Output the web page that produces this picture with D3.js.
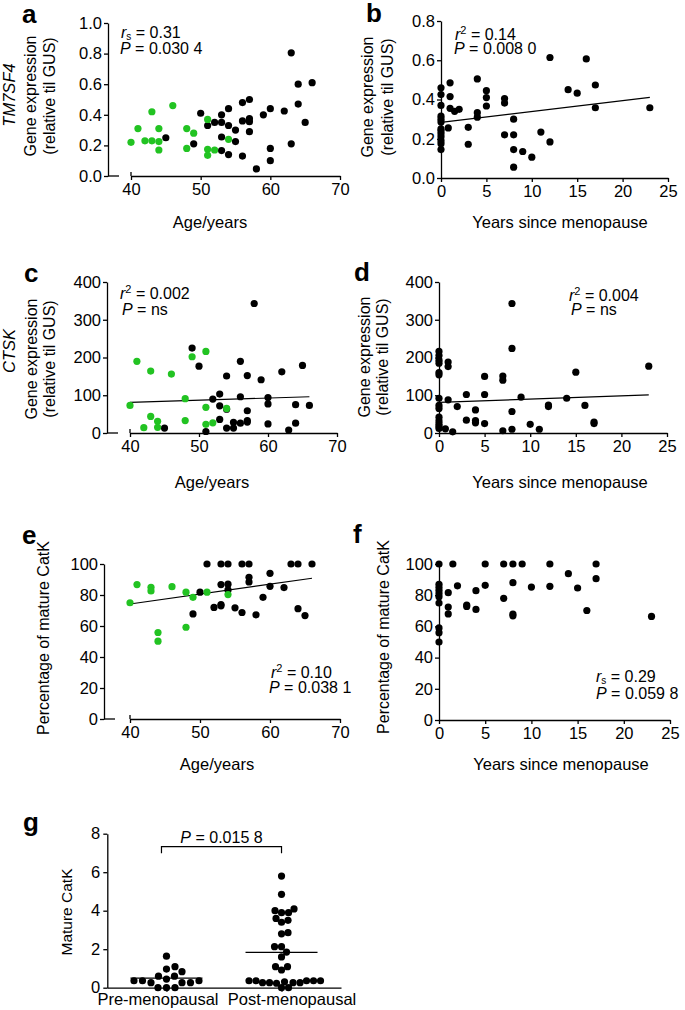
<!DOCTYPE html>
<html>
<head>
<meta charset="utf-8">
<script src="https://cdnjs.cloudflare.com/ajax/libs/d3/7.8.5/d3.min.js"></script>
<style>
  body { margin: 0; background: #fff; }
  svg text { font-family: "Liberation Sans", Arial, Helvetica, sans-serif; fill: #000; }
  .axis path, .axis line { stroke: #000; stroke-width: 1.3; }
  .axis text { font-size: 16.5px; }
</style>
</head>
<body>
<script>
const W = 685, H = 1010;
const green = '#22c322';

// a: TM7SF4 vs age  (pre = green, post = black)
const aPre = [[40,0.22],[41,0.31],[42,0.23],[43,0.42],[43,0.23],[44,0.31],[44,0.225],[44,0.17],[46,0.46],
  [48,0.31],[48,0.18],[49,0.28],[51,0.37],[51,0.175],[51,0.135],[52,0.17],[54,0.24]];
const aPost = [[45,0.25],[49,0.21],[50,0.41],[51,0.33],[52,0.35],[53,0.40],[53,0.35],[53,0.255],[53,0.166],
  [54,0.44],[54,0.33],[54,0.14],[55,0.30],[55,0.225],[56,0.48],[56,0.36],[56,0.13],[57,0.50],[57,0.375],
  [57,0.355],[57,0.29],[58,0.046],[59,0.40],[60,0.44],[60,0.18],[60,0.10],[62,0.425],[63,0.805],[63,0.21],
  [64,0.60],[64,0.47],[65,0.35],[66,0.61]];

// b: TM7SF4 vs years since menopause
const bPts = [[0,0.46],[0,0.425],[0,0.37],[0,0.315],[0,0.30],[0,0.285],[0,0.25],[0,0.24],[0,0.225],[0,0.21],
  [0,0.19],[0,0.175],[0,0.145],[0.8,0.255],[1,0.485],[1,0.415],[1,0.355],[1.5,0.34],[2,0.35],[3,0.258],
  [3,0.172],[4,0.505],[4,0.333],[4,0.31],[5,0.445],[5,0.41],[5,0.367],[7,0.405],[7,0.382],[7,0.22],[8,0.30],
  [8,0.22],[8,0.145],[8,0.055],[9,0.135],[10,0.106],[11,0.234],[12,0.614],[12,0.184],[14,0.45],[15,0.432],
  [16,0.607],[17,0.474],[17,0.358],[23,0.358]];
const bFitX = [0, 23], bFitY = [0.283, 0.411];

// c: CTSK vs age
const cPre = [[40,73],[41,190],[42,14],[43,164],[43,44],[44,31],[44,15],[46,156],[48,91],[48,33],[49,202],
  [51,216],[51,68],[51,23],[52,27],[54,65]];
const cPost = [[45,13],[49,225],[50,177],[51,4],[52,90],[53,103],[53,72],[53,36],[54,151],[54,63],[54,13],
  [55,28],[55,13],[56,190],[56,96],[56,26],[57,152],[57,59],[57,33],[57,29],[58,343],[59,141],[60,94],
  [60,77],[60,24],[62,162],[63,8],[64,75],[64,26],[65,179],[66,73]];
const cFitX = [40, 66], cFitY = [81, 96];

// d: CTSK vs years since menopause
const dPts = [[0,216],[0,205],[0,193],[0,185],[0,160],[0,154],[0,92],[0,73],[0,65],[0,42],[0,32],[0,24],
  [0,18],[0,12],[0.7,11],[1,188],[1,176],[1,88],[1.5,3],[2,70],[3,102],[3,34],[4,61],[4,33],[4,27],[5,150],
  [5,102],[5,25],[7,151],[7,140],[7,6],[8,343],[8,224],[8,57],[8,10],[9,95],[10,23],[11,10],[12,74],[12,70],
  [14,92],[15,161],[16,73],[17,29],[17,25],[23,177]];
const dFitX = [0, 23], dFitY = [81, 101];

// e: % mature CatK vs age
const ePre = [[40,75],[41,86.7],[43,85],[43,82.6],[44,55.8],[44,50.2],[46,85.4],[48,81.8],[48,59.2],
  [49,78.5],[51,81.8],[54,80.3]];
const ePost = [[49,67.8],[50,81.8],[51,100],[52,72],[53,100],[53,86.7],[53,73.8],[53,73],[54,100],[54,87],
  [54,83.3],[55,71.7],[56,100],[56,68.7],[57,100],[57,91.4],[57,88.4],[58,67.2],[59,78.5],[60,94],[60,85.6],
  [62,84.8],[63,100],[64,100],[64,71.2],[65,66.7],[66,100]];
const eFitX = [40, 66], eFitY = [74.2, 90.8];

// f: % mature CatK vs years since menopause
const fPts = [[0,100],[0,87],[0,85],[0,83],[0,81],[0,79],[0,75],[0,59],[0,56],[0,50],[1,81.6],[1,72.4],
  [1,68],[1.5,100],[2,86],[3,73.7],[3,72.8],[4,82.9],[4,70.9],[5,100],[5,86.3],[7,100],[7,78],[8,100],[8,88],
  [8,67.9],[8,66.8],[9,100],[10,85.2],[12,100],[12,85.7],[14,93.8],[15,84.6],[16,70.2],[17,100],[17,90.6],
  [23,66.4]];

// g: mature CatK by group
const gGroups = ['Pre-menopausal', 'Post-menopausal'];
const gPre = [1.64,0.97,1.09,0.83,0.6,0.6,0.45,0.36,0.26,0.26,0.26,0.36,0.36,0,0,0];
const gPost = [5.8,4.85,3.9,4.0,4.09,3.9,3.6,3.4,3.5,2.86,2.8,2.13,2.13,1.85,1.6,1.09,1.09,0.92,
  0.36,0.26,0.23,0.36,0.26,0.26,0.36,0.26,0.36,0.31,0.36,0,0];

const ageTicks = [40, 50, 60, 70];
const yearTicks = [0, 5, 10, 15, 20, 25];

const svg = d3.select('body').append('svg').attr('width', W).attr('height', H);

function letter(t, x, y) {
  svg.append('text').attr('x', x).attr('y', y).style('font-size', '26px').style('font-weight', 'bold').text(t);
}

function vlabel(t, x, y, size, italic) {
  svg.append('text').attr('transform', `translate(${x},${y}) rotate(-90)`)
    .attr('text-anchor', 'middle').style('font-size', size + 'px')
    .style('font-style', italic ? 'italic' : 'normal').text(t);
}

// each line: [symbol, modifier ('s' sub / '2' sup / ''), rest]
function stat(x, y, lines) {
  lines.forEach((ln, i) => {
    const t = svg.append('text').attr('x', x[i]).attr('y', y[i]).style('font-size', '16px');
    t.append('tspan').style('font-style', 'italic').text(ln[0]);
    if (ln[1] === 's') t.append('tspan').attr('dy', 2).style('font-size', '10px').text('s');
    if (ln[1] === '2') t.append('tspan').attr('dy', -6).style('font-size', '11px').text('2');
    t.append('tspan').attr('dy', ln[1] === 's' ? -2 : (ln[1] === '2' ? 6 : 0)).text(ln[2]);
  });
}

function scatter(p) {
  const g = svg.append('g');
  const x = d3.scaleLinear().domain(p.xDom).range(p.xRange);
  const y = d3.scaleLinear().domain(p.yDom).range([p.y0, p.y1]);

  g.append('g').attr('class', 'axis').attr('transform', `translate(${p.yx},0)`)
    .call(d3.axisLeft(y).tickValues(p.yTicks).tickFormat(d3.format(p.yFmt))
      .tickSize(4).tickPadding(2).tickSizeOuter(0));
  g.append('g').attr('class', 'axis').attr('transform', `translate(0,${p.y0})`)
    .call(d3.axisBottom(x).tickValues(p.xTicks).tickFormat(d3.format('d'))
      .tickSize(4).tickPadding(3).tickSizeOuter(0));

  if (p.offset) {
    g.append('line').attr('x1', p.yx).attr('x2', p.yx + 11).attr('y1', p.y0).attr('y2', p.y0)
      .attr('stroke', '#000').attr('stroke-width', 1.3);
    g.append('line').attr('x1', x(p.xDom[0])).attr('x2', x(p.xDom[0])).attr('y1', p.y0 - 4).attr('y2', p.y0)
      .attr('stroke', '#000').attr('stroke-width', 1.3);
  }

  if (p.fitX) {
    g.append('line').attr('x1', x(p.fitX[0])).attr('x2', x(p.fitX[1]))
      .attr('y1', y(p.fitY[0])).attr('y2', y(p.fitY[1]))
      .attr('stroke', '#000').attr('stroke-width', 1.2);
  }

  g.selectAll('.blk').data(p.black).enter().append('circle').attr('class', 'blk')
    .attr('cx', d => x(d[0])).attr('cy', d => y(d[1])).attr('r', 3.6).attr('fill', '#000');
  g.selectAll('.grn').data(p.green || []).enter().append('circle').attr('class', 'grn')
    .attr('cx', d => x(d[0])).attr('cy', d => y(d[1])).attr('r', 3.6).attr('fill', green);

  svg.append('text').attr('x', p.titleX).attr('y', p.titleY).attr('text-anchor', 'middle')
    .style('font-size', '16.5px').text(p.xTitle);
}

// ---- panels a-f
scatter({ yx: 108, y0: 176, y1: 23, yDom: [0, 1], yTicks: [0, 0.2, 0.4, 0.6, 0.8, 1.0], yFmt: '.1f',
  xDom: [40, 70], xRange: [131, 340], xTicks: ageTicks, offset: true,
  black: aPost, green: aPre, xTitle: 'Age/years', titleX: 210, titleY: 228 });
scatter({ yx: 441, y0: 178, y1: 21, yDom: [0, 0.8], yTicks: [0, 0.2, 0.4, 0.6, 0.8], yFmt: '.1f',
  xDom: [0, 25], xRange: [441, 668], xTicks: yearTicks,
  black: bPts, fitX: bFitX, fitY: bFitY, xTitle: 'Years since menopause', titleX: 560, titleY: 228 });
scatter({ yx: 107, y0: 433, y1: 282, yDom: [0, 400], yTicks: [0, 100, 200, 300, 400], yFmt: 'd',
  xDom: [40, 70], xRange: [130, 337], xTicks: ageTicks, offset: true,
  black: cPost, green: cPre, fitX: cFitX, fitY: cFitY, xTitle: 'Age/years', titleX: 212, titleY: 488 });
scatter({ yx: 439, y0: 433, y1: 282, yDom: [0, 400], yTicks: [0, 100, 200, 300, 400], yFmt: 'd',
  xDom: [0, 25], xRange: [439, 667], xTicks: yearTicks,
  black: dPts, fitX: dFitX, fitY: dFitY, xTitle: 'Years since menopause', titleX: 560, titleY: 488 });
scatter({ yx: 104, y0: 719, y1: 564, yDom: [0, 100], yTicks: [0, 20, 40, 60, 80, 100], yFmt: 'd',
  xDom: [40, 70], xRange: [130, 340], xTicks: ageTicks, offset: true,
  black: ePost, green: ePre, fitX: eFitX, fitY: eFitY, xTitle: 'Age/years', titleX: 217, titleY: 770 });
scatter({ yx: 439, y0: 720, y1: 564, yDom: [0, 100], yTicks: [0, 20, 40, 60, 80, 100], yFmt: 'd',
  xDom: [0, 25], xRange: [439, 670], xTicks: yearTicks,
  black: fPts, xTitle: 'Years since menopause', titleX: 561, titleY: 770 });

// ---- panel g
(function () {
  const x = d3.scalePoint().domain(gGroups).range([107, 341]).padding(0.517);
  const y = d3.scaleLinear().domain([0, 8]).range([987.7, 833.7]);
  const r = 3.6;
  svg.append('g').attr('class', 'axis').attr('transform', 'translate(107.3,0)')
    .call(d3.axisLeft(y).tickValues([0, 2, 4, 6, 8]).tickSize(4).tickPadding(3).tickSizeOuter(0));
  const xa = svg.append('g').attr('class', 'axis').attr('transform', 'translate(0,987.7)')
    .call(d3.axisBottom(x).tickSize(4).tickPadding(2).tickSizeOuter(0));
  xa.selectAll('text').attr('dx', (d, i) => i === 0 ? -9 : 10);

  // simple beeswarm: lowest value first, nearest free horizontal slot
  function swarm(vals, cx, minD) {
    const placed = [];
    vals.slice().sort((a, b) => a - b).forEach(v => {
      const py = y(v);
      for (let k = 0; k < 400; k++) {
        const px = cx + (k % 2 ? 1 : -1) * Math.ceil(k / 2) * 0.5;
        if (placed.every(q => Math.hypot(q[0] - px, q[1] - py) >= minD)) { placed.push([px, py]); break; }
      }
    });
    return placed;
  }

  [gPre, gPost].forEach((vals, i) => {
    const cx = x(gGroups[i]);
    svg.append('g').selectAll('circle').data(swarm(vals, cx, i === 0 ? 8.5 : 6.6)).enter().append('circle')
      .attr('cx', d => d[0]).attr('cy', d => d[1]).attr('r', r).attr('fill', '#000');
    const m = d3.mean(vals);
    svg.append('line').attr('x1', cx - 36).attr('x2', cx + 36).attr('y1', y(m)).attr('y2', y(m))
      .attr('stroke', '#000').attr('stroke-width', 1.3);
  });

  const bx0 = x(gGroups[0]) - 5, bx1 = x(gGroups[1]);
  svg.append('path').attr('d', `M${bx0},853.3V846.7H${bx1}V853.3`)
    .attr('fill', 'none').attr('stroke', '#000').attr('stroke-width', 1.2);
  const pt = svg.append('text').attr('x', (bx0 + bx1) / 2).attr('y', 842.7).attr('text-anchor', 'middle')
    .style('font-size', '16px');
  pt.append('tspan').style('font-style', 'italic').text('P');
  pt.append('tspan').text(' = 0.015 8');
})();

// ---- titles, letters, stats
letter('a', 22, 23); letter('b', 366, 22);
letter('c', 24, 282); letter('d', 354, 281);
letter('e', 22, 544); letter('f', 353, 543);
letter('g', 23, 831);

vlabel('TM7SF4', 15, 95, 16.5, true);
vlabel('Gene expression', 36, 96, 16); vlabel('(relative til GUS)', 55, 96, 16);
vlabel('Gene expression', 373, 97, 16); vlabel('(relative til GUS)', 393, 97, 16);
vlabel('CTSK', 15, 351, 16.5, true);
vlabel('Gene expression', 37, 359, 16); vlabel('(relative til GUS)', 55, 359, 16);
vlabel('Gene expression', 370, 357, 16); vlabel('(relative til GUS)', 388, 357, 16);
vlabel('Percentage of mature CatK', 49, 638, 16);
vlabel('Percentage of mature CatK', 389, 637, 16);
vlabel('Mature CatK', 72, 912, 15.5);

stat([121, 120], [38, 54], [['r', 's', ' = 0.31'], ['P', '', ' = 0.030 4']]);
stat([455, 454], [40, 54], [['r', '2', ' = 0.14'], ['P', '', ' = 0.008 0']]);
stat([120, 122], [299, 315], [['r', '2', ' = 0.002'], ['P', '', ' = ns']]);
stat([569, 571], [301, 315], [['r', '2', ' = 0.004'], ['P', '', ' = ns']]);
stat([271, 269], [678, 693], [['r', '2', ' = 0.10'], ['P', '', ' = 0.038 1']]);
stat([596, 596], [682, 699], [['r', 's', ' = 0.29'], ['P', '', ' = 0.059 8']]);
</script>
</body>
</html>
